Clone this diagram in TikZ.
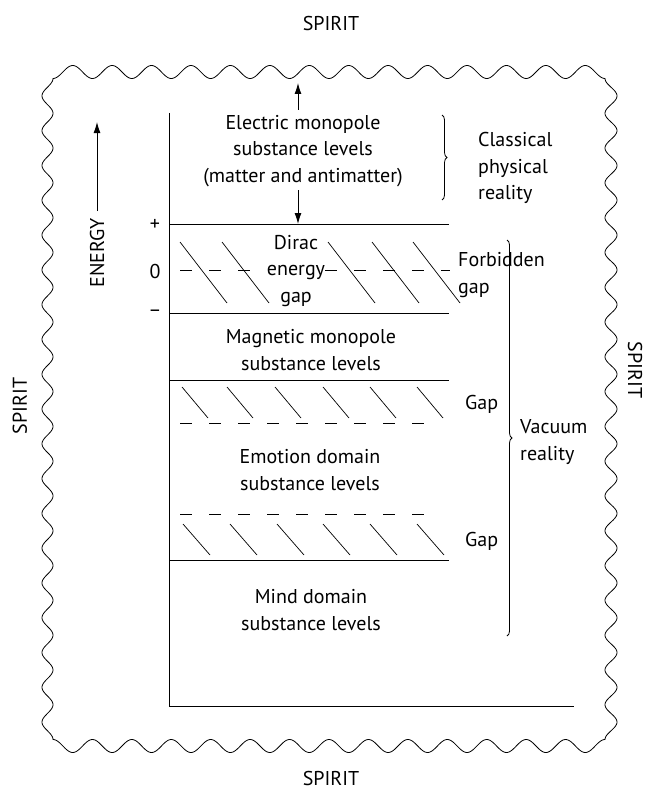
\documentclass[tikz,border=0pt]{standalone}
\usepackage{fontspec}
\setmainfont{PT Sans}
\usetikzlibrary{arrows.meta,decorations.pathreplacing}
\begin{document}
\begin{tikzpicture}[x=1pt,y=-1pt,
  txt/.style={font=\fontsize{20}{26.5}\selectfont, inner sep=0pt, align=center},
  ltxt/.style={font=\fontsize{20}{26.5}\selectfont, inner sep=0pt, align=left},
  lvl/.style={line width=0.9pt},
  hatch/.style={line width=0.7pt},
  gapdash/.style={line width=0.7pt, dash pattern=on 12pt off 17pt},
  arr/.style={line width=0.9pt, -{Latex[length=11pt,width=7pt]}},
  brc/.style={line width=0.8pt, decorate, decoration={brace, amplitude=5pt}},
  wave/.style={line width=0.8pt}
]
\useasboundingbox (0,0) rectangle (647,789);

% wavy border
\draw[wave]
  plot[domain=53:605, samples=420] (\x, {72+6.5*cos(9.1304*(\x-53))})
  -- plot[domain=78.5:739.5, samples=520] ({611-6*cos(10.348*(\x-78.5))}, \x)
  -- plot[domain=0:552, samples=420] ({605-\x}, {746-6.5*cos(9.1304*(552-\x))})
  -- plot[domain=0:661, samples=520] ({47.5+5.5*cos(10.348*(661-\x))}, {739.5-\x})
  -- cycle;

% SPIRIT labels
\node[txt] (sTop) at (331,24) {SPIRIT};
\node[txt] (sBot) at (331,778) {SPIRIT};
\node[txt, rotate=90] (sLeft) at (20,406) {SPIRIT};
\node[txt, rotate=-90] (sRight) at (635,370) {SPIRIT};

% axis and levels
\coordinate (axTop) at (169,113);
\coordinate (axBot) at (169,706);
\coordinate (axEnd) at (574,706);
\draw[lvl] (axTop) -- (axBot) -- (axEnd);
\coordinate (pL) at (169,224); \coordinate (pR) at (449,224);
\coordinate (mL) at (169,313); \coordinate (mR) at (449,313);
\coordinate (gL) at (169,380); \coordinate (gR) at (449,380);
\coordinate (hL) at (169,560); \coordinate (hR) at (449,560);
\draw[lvl] (pL) -- (pR);
\draw[lvl] (mL) -- (mR);
\draw[lvl] (gL) -- (gR);
\draw[lvl] (hL) -- (hR);

% + 0 - marks
\node[txt] (plus) at (155,225) {+};
\node[txt] (zero) at (155,271) {0};
\node[txt] (minus) at (155,313) {\textendash};

% energy arrow
\node[txt, rotate=90] (energy) at (97,253) {ENERGY};
\coordinate (eTop) at (97,122);
\draw[arr] (energy.east) ++(0,-7) coordinate (eStart) -- (eTop);

% electric monopole
\node[txt] (elec) at (303,151) {Electric monopole\\substance levels\\(matter and antimatter)};
\coordinate (upA) at (298,110);
\coordinate (upB) at (298,83);
\draw[arr] (upA) -- (upB);
\coordinate (dnA) at (298,190);
\coordinate (dnB) at (298,224);
\draw[arr] (dnA) -- (dnB);

% classical brace
\coordinate (cbT) at (442,115);
\coordinate (cbB) at (442,200);
\draw[brc] (cbT) -- (cbB);
\node[ltxt, anchor=west] (classical) at (478,168) {Classical\\physical\\reality};

% Dirac gap
\foreach \s in {180,222,328,372,413} \draw[hatch] (\s,242) -- ++(47,61);
\draw[gapdash] (180,270) -- (262,270);
\draw[gapdash] (325,270) -- (450,270);
\node[txt] (dirac) at (296,271) {Dirac\\energy\\gap};
\node[ltxt, anchor=west] (forbidden) at (458,275) {Forbidden\\gap};

% magnetic
\node[txt] (magn) at (311,350) {Magnetic monopole\\substance levels};

% gap 1
\foreach \s in {182,227,275,323,370,417} \draw[hatch] (\s,387) -- ++(26,31);
\draw[gapdash] (180,423) -- (432,423);
\node[ltxt, anchor=base west] (gap1) at (465,409) {Gap};

% emotion
\node[txt] (emo) at (310,470) {Emotion domain\\substance levels};

% gap 2
\draw[gapdash] (180,514) -- (432,514);
\foreach \s in {183,230,277,323,370,417} \draw[hatch] (\s,524) -- ++(27,31);
\node[ltxt, anchor=base west] (gap2) at (465,546) {Gap};

% mind
\node[txt] (mind) at (311,610) {Mind domain\\substance levels};

% vacuum brace
\coordinate (vbT) at (507,240);
\coordinate (vbB) at (507,636);
\draw[brc] (vbT) -- (vbB);
\node[ltxt, anchor=west] (vacuum) at (520,442) {Vacuum\\reality};
\end{tikzpicture}
\end{document}
